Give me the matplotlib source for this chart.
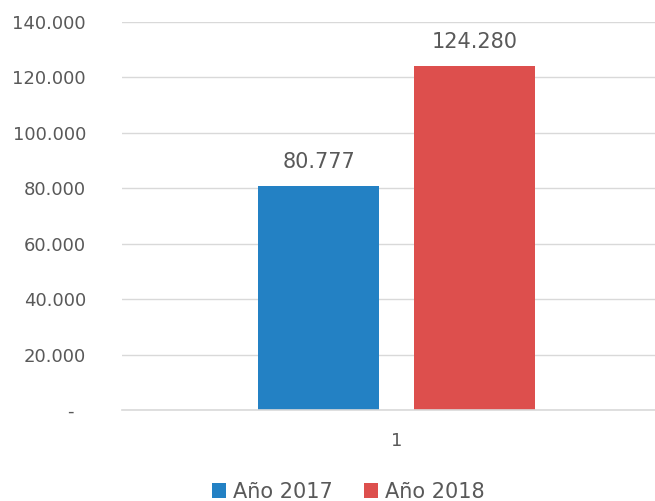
import matplotlib
matplotlib.use("Agg")
import matplotlib.pyplot as plt
from matplotlib.ticker import FuncFormatter

categories = ["1"]
series_names = ["Año 2017", "Año 2018"]
values_2017 = [80777]
values_2018 = [124280]
colors = ["#2381C4", "#DD4F4D"]
yticks = [0, 20000, 40000, 60000, 80000, 100000, 120000, 140000]

plt.rcParams['font.family'] = ['DejaVu Sans']
text_color = "#595959"

fig = plt.figure(figsize=(6.55, 5.01), dpi=100)
ax = fig.add_axes([122/655, 1 - 410/501, 549/655, (410 - 22)/501])

x = list(range(len(categories)))
width = 0.222
offset = 0.142
b1 = ax.bar([i - offset for i in x], values_2017, width, color=colors[0], label=series_names[0], zorder=3)
b2 = ax.bar([i + offset for i in x], values_2018, width, color=colors[1], label=series_names[1], zorder=3)

for bars in (b1, b2):
    for rect in bars:
        h = rect.get_height()
        lbl = f"{h:,.0f}".replace(",", ".")
        ax.annotate(lbl, (rect.get_x() + rect.get_width()/2, h), xytext=(0, 10),
                    textcoords="offset points", ha="center", va="bottom",
                    fontsize=15, color=text_color)

ax.set_xlim(-0.5, 0.5)
ax.set_ylim(0, 140000)
ax.set_yticks(yticks)

def fmt(v, pos):
    if v == 0:
        return "-  "
    return f"{v:,.0f}".replace(",", ".")

ax.yaxis.set_major_formatter(FuncFormatter(fmt))
ax.set_xticks(x)
ax.set_xticklabels(categories)
ax.tick_params(axis='y', length=0, pad=26, labelsize=13, labelcolor=text_color)
ax.tick_params(axis='x', length=0, pad=16, labelsize=13, labelcolor=text_color)
ax.grid(axis='y', color="#D9D9D9", linewidth=1.0, zorder=0)
ax.axhline(0, color="#D9D9D9", linewidth=1.2, zorder=4, clip_on=False)
for s in ["top", "right", "left", "bottom"]:
    ax.spines[s].set_visible(False)

fig.legend(handles=[b1, b2], labels=series_names, loc="center",
           bbox_to_anchor=(348/655, 1 - 492/501), ncol=2, frameon=False,
           fontsize=15, handlelength=0.7, handleheight=0.7, handletextpad=0.3,
           columnspacing=1.5, labelcolor=text_color)

fig.savefig("out.png", dpi=100)
